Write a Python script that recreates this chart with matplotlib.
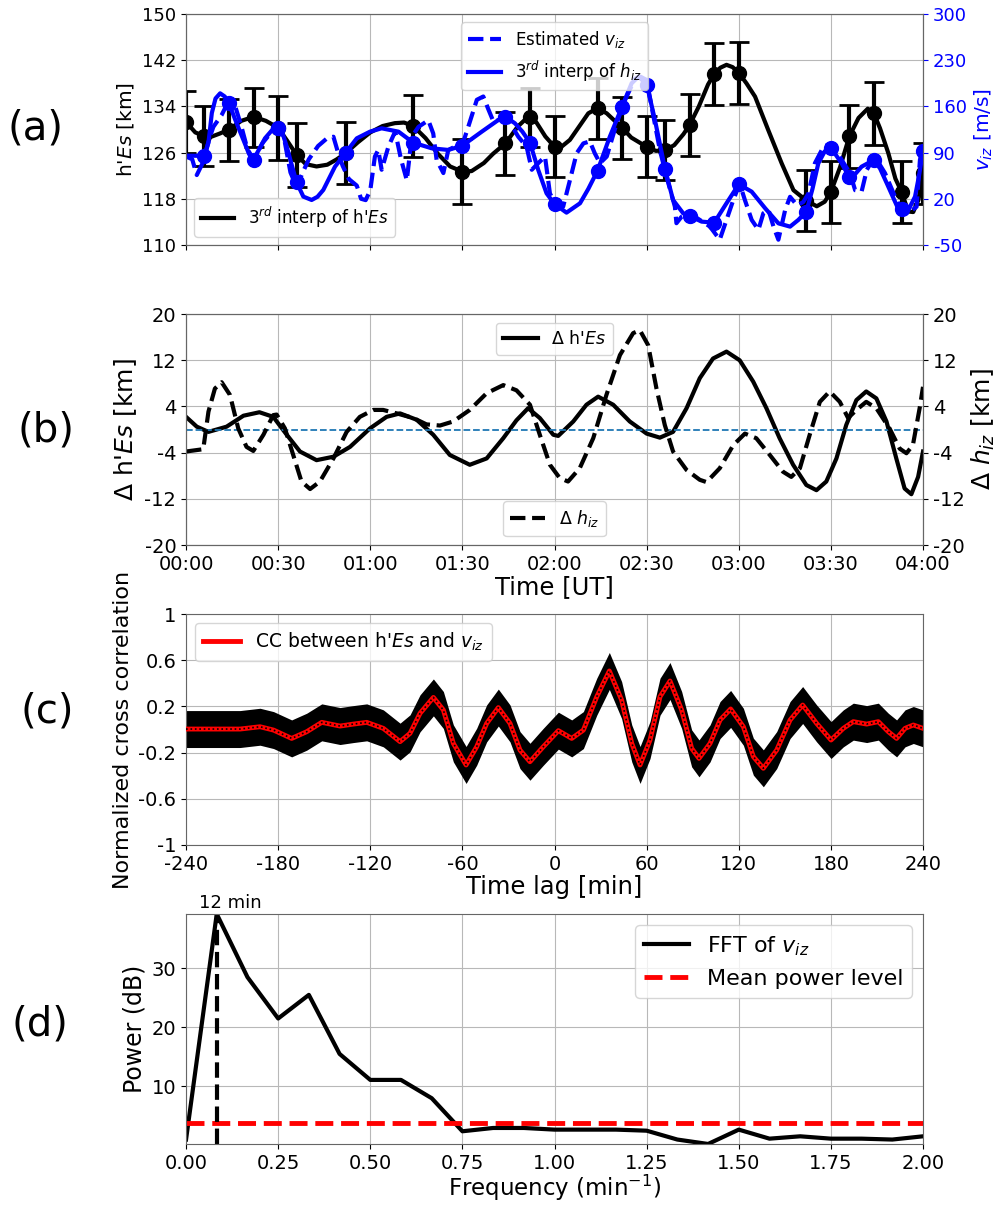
import numpy as np
import matplotlib
matplotlib.use('Agg')
import matplotlib.pyplot as plt

plt.rcParams['font.family'] = ['DejaVu Sans']
plt.rcParams['axes.unicode_minus'] = False
plt.rcParams['mathtext.fontset'] = 'dejavusans'

# ---------------- Panel (a) data ----------------
t_pts = [0, 6, 14, 22, 30, 36, 52, 74, 90, 104, 112, 120, 134, 142, 150, 156,
         164, 172, 180, 202, 210, 216, 224, 233, 240]
h_pts = [131.3, 128.8, 129.9, 132.1, 130.3, 125.6, 125.9, 130.6, 122.7, 127.6,
         132.1, 127.0, 133.7, 130.3, 127.0, 126.4, 130.8, 139.6, 139.8, 117.7,
         119.2, 128.8, 132.8, 119.2, 122.4]
h_err = [5.4, 5.2, 5.4, 5.1, 5.5, 5.5, 5.4, 5.4, 5.6, 5.4, 5.1, 5.3, 5.3, 5.4,
         5.3, 5.2, 5.4, 5.4, 5.4, 5.3, 5.4, 5.4, 5.4, 5.4, 5.3]

t_hes = [0, 3, 6, 8, 11, 14, 18, 22, 26, 30, 33, 36, 39, 42.5, 46, 49, 52, 56, 60,
         64, 68, 71, 74, 78, 82, 86, 90, 93, 97, 100, 104, 108, 111, 114, 117, 120,
         122, 125, 128, 131, 134, 137, 140, 142, 145, 150, 153, 156, 159, 162, 164,
         167, 170, 172, 174, 176, 178, 180, 182.5, 185.3, 189.6, 194, 197.8, 202,
         205.4, 208, 210, 213, 216, 219, 222, 224, 226, 228.7, 231, 233, 235.2,
         236.8, 238.5, 240]
h_hes = [131.3, 129.5, 128.8, 128.7, 129.3, 130.0, 131.5, 132.2, 131.5, 130.3,
         128.0, 125.6, 124.0, 123.6, 123.9, 124.8, 125.9, 127.8, 129.5, 130.6,
         131.1, 131.2, 130.6, 128.5, 125.8, 123.6, 122.7, 122.8, 124.2, 125.8,
         127.6, 130.5, 132.0, 131.3, 128.8, 127.0, 126.9, 128.2, 130.5, 132.8,
         133.7, 132.8, 131.3, 130.3, 128.6, 127.0, 126.3, 126.4, 127.3, 129.2,
         130.8, 134.0, 137.8, 139.6, 140.7, 141.2, 140.8, 139.8, 138.0, 135.7,
         129.9, 124.1, 119.5, 117.7, 116.7, 117.5, 119.2, 123.5, 128.8, 132.0,
         133.6, 132.8, 130.2, 125.9, 121.5, 119.2, 115.8, 115.7, 117.8, 122.4]

t_blue = [6, 14, 22, 30, 36, 52, 74, 90, 104, 112, 120, 134, 142, 150, 156, 164,
          172, 180, 202, 210, 216, 224, 233, 240]
v_blue = [85, 164.7, 78.8, 127.7, 45, 90, 105, 100.5, 144.4, 105, 12.1, 62.6,
          159.6, 192.4, 64.7, -6, -16.2, 42, 0.5, 97.4, 52.6, 78.8, 4, 92.4]

t_fit = [0, 3, 6, 7.3, 8.4, 9.6, 11.1, 12.6, 14, 16, 18.7, 20.5, 21.9, 23.8, 25.7,
         28, 30, 31.5, 32.8, 34.5, 36, 38.2, 40.9, 42.8, 44.7, 48.5, 52, 55.6, 59.9,
         63.7, 69.2, 74, 80, 85.4, 90, 96.3, 101.7, 104, 107.1, 109.5, 112, 114.7,
         117.4, 120, 123.9, 128.3, 131, 134, 138, 142, 145.1, 147.3, 150, 152.7,
         156, 158.6, 161.9, 164, 167.9, 172, 176, 180, 184.2, 188.6, 192.9, 196.7,
         199.4, 202, 204, 205.9, 208, 210, 213.5, 216, 218, 220, 224, 226, 228.2,
         232, 234.7, 237.4, 238.7, 240]
v_fit = [85.4, 85.2, 85, 105, 150, 172, 179.8, 175, 164.7, 140, 109, 88, 78.8, 95,
         111.6, 124, 127.7, 118, 99, 70, 45, 23.3, 18.2, 23, 33.4, 68.7, 90, 111.6,
         121.7, 126.8, 121.7, 105, 96.5, 94, 100.5, 121.7, 139.4, 144.4, 134.4,
         122, 105, 63.7, 28.3, 12.1, -1, 13.2, 35, 62.6, 114, 159.6, 195, 205, 194,
         139.4, 64.7, 18.2, -2, -6, -14.6, -16.2, 13.2, 42, 30.8, 5.6, -17.2,
         -22.2, -12, 0.5, 35, 73.7, 92, 97.4, 73.7, 52.6, 58, 68.7, 78.8, 66,
         43.5, 4, -2, 23.3, 55, 92.4]

t_est = [0, 2, 3.5, 5.5, 7.5, 8.9, 11.6, 13, 15.9, 18, 20, 22, 25, 28, 30, 32, 34,
         36, 38, 40, 43, 46, 48, 49.5, 51, 53, 55.6, 57, 58.5, 60, 61.5, 62.6, 63.7,
         65.9, 68.1, 70, 71.9, 73.5, 75.7, 78.9, 80.5, 81.6, 83.8, 85.4, 88, 90,
         91.9, 94.7, 96.8, 98.5, 100.1, 102, 105, 108.2, 110.9, 112.6, 114.7, 116.9,
         118.5, 120, 122.8, 125, 127.2, 129.4, 131.5, 133.1, 134.8, 137, 140.2, 143,
         146.2, 148, 150, 152, 154.3, 156.5, 159.2, 159.7, 161.4, 164, 167.3, 170.6,
         173.8, 176, 178.2, 180.3, 182, 184.2, 186.4, 188, 189.7, 191.3, 192.9,
         195.1, 196.7, 199, 201, 202.7, 204.8, 207.6, 210.3, 213.5, 216.2, 217.9,
         220, 221.7, 224.3, 227.6, 230.9, 233, 235.2, 237.9, 239, 240]
v_est = [84, 80, 56, 75, 110, 129, 147, 160, 162, 130, 95, 80, 105, 122, 127, 110,
         60, 38, 60, 80, 100, 112, 114, 90, 70, 50, 40, 20, 18, 33, 84, 94, 64, 99,
         122, 80, 48, 114, 129, 139, 119, 79, 59, 94, 100, 102, 129, 170, 175, 155,
         137, 140, 139, 114, 99, 64, 74, 84, 28, 15, 8, 48, 89, 104, 107, 89, 74,
         84, 134, 170, 202, 205, 200, 150, 94, 53, 8, -17, -7, -2, -12, -22, -42,
         -12, 18, 43, 18, -12, -27, -2, 3, -22, -42, 3, 23, 10, 15, 28, 74, 99, 104,
         79, 59, 33, 31, 64, 84, 59, 23, 3, -2, 8, 79, 99]

# ---------------- Panel (b) data ----------------
t_dh = [0, 3.5, 7.3, 13.2, 18.7, 23.9, 28.4, 32.8, 37.1, 42.5, 48, 53.4, 59.9,
        65.3, 69.7, 75.1, 80.5, 85.9, 92.4, 97.9, 103.3, 107.6, 111.4, 115.2,
        119.6, 121.2, 126.1, 130.4, 134.2, 139.1, 144.5, 150, 154.3, 158.6, 163,
        167.3, 171.6, 176, 180.3, 184.7, 189, 193.3, 197.7, 202, 205.3, 208.5,
        211.8, 215, 218.3, 221.5, 224.8, 228.1, 231.3, 234, 236.2, 238.4, 240]
dh_es = [2.2, 0.5, -0.4, 0.5, 2.4, 3.0, 2.2, -0.9, -3.8, -5.3, -4.7, -3.0, 0.2,
         2.2, 2.8, 1.7, -0.9, -4.4, -6.1, -5.0, -1.5, 1.6, 3.7, 2.0, -0.9, -1.1,
         1.4, 4.3, 5.7, 4.3, 1.4, -0.7, -1.4, -0.4, 3.7, 8.9, 12.3, 13.5, 12.0, 8.3,
         3.7, -1.5, -6.1, -9.6, -10.5, -9.0, -5.0, 0.8, 5.1, 6.6, 5.4, 1.4, -5.0,
         -10.2, -11.2, -8.2, -3.8]

t_dz = [0, 5.6, 7.3, 9.4, 11.6, 14.3, 17, 19.7, 21.9, 25.2, 28.4, 29.5, 32.2, 34.9,
        37.6, 40.4, 43.6, 48, 52.3, 56.6, 61, 64.2, 68.6, 74, 78.3, 82.7, 87, 92.4,
        97.9, 103.3, 107.6, 112, 115.2, 118.5, 121.7, 124.4, 128.2, 132.6, 136.9,
        141.3, 145.6, 147.8, 150.5, 153.2, 155.9, 158.6, 163, 167.3, 169.5, 173.8,
        178.2, 182, 185.7, 190.1, 194.4, 197.1, 199.9, 203.1, 206.4, 209.6, 212.9,
        215.6, 218.3, 221.5, 224.8, 229.1, 232.4, 234.6, 236.7, 238.9, 240]
dh_iz = [-3.8, -3.4, 3.1, 7.1, 8.2, 6.0, 0.2, -3.0, -3.7, -0.9, 2.5, 2.6, 0.2, -4.4,
         -9.0, -10.3, -9.0, -5.0, -0.4, 2.2, 3.4, 3.4, 2.8, 2.0, 0.9, 0.7, 1.4, 3.4,
         6.3, 7.7, 6.8, 4.3, -0.9, -6.1, -8.4, -9.0, -6.7, -1.5, 6.0, 12.9, 16.7,
         17.2, 14.6, 7.1, 0.8, -3.8, -7.0, -8.7, -9.1, -6.7, -2.7, -0.7, -1.5, -4.4,
         -7.3, -8.2, -6.7, -0.9, 4.8, 6.6, 4.8, 2.0, 3.4, 4.8, 3.7, 0.2, -3.3, -4.1,
         -2.7, 3.7, 7.4]
time_labels = ['00:00', '00:30', '01:00', '01:30', '02:00', '02:30', '03:00',
               '03:30', '04:00']

# ---------------- Panel (c) data ----------------
lag = [-240, -220, -204.8, -191.8, -183, -171.2, -161.4, -151.6, -139.7, -131,
       -122.3, -111.5, -100.6, -94.1, -87.6, -78.9, -72.4, -65.9, -57.6, -50.7,
       -44.2, -36.6, -29, -22.5, -16, -7.3, 2.5, 11.2, 18.8, 27.5, 35.7, 43.7,
       50.3, 55.7, 62.2, 68.7, 75.2, 82.8, 89.3, 94.1, 101.3, 107.8, 114.7, 123,
       129.5, 136, 144.7, 153.4, 161.6, 170.7, 180.1, 188.1, 194.6, 203.3, 210.9,
       217.4, 222.8, 228.3, 233.7, 240]
cc = [0.004, 0.004, 0.004, 0.024, -0.005, -0.077, -0.019, 0.062, 0.030, 0.047,
      0.062, 0.010, -0.105, -0.033, 0.140, 0.278, 0.169, -0.120, -0.307, -0.149,
      0.053, 0.190, 0.053, -0.178, -0.279, -0.149, -0.010, -0.077, -0.005, 0.284,
      0.507, 0.255, -0.120, -0.307, -0.091, 0.284, 0.420, 0.169, -0.163, -0.250,
      -0.120, 0.082, 0.178, 0.024, -0.235, -0.336, -0.178, 0.082, 0.212, 0.053,
      -0.091, 0.010, 0.068, 0.047, 0.068, -0.019, -0.077, 0.010, 0.039, 0.010]
cc_band = 0.16
cc_yticks = [-1, -0.6, -0.2, 0.2, 0.6, 1]
cc_yticklabels = ['-1', '-0.6', '-0.2', '0.2', '0.6', '1']

# ---------------- Panel (d) data ----------------
freq = [0.0, 0.0833, 0.1667, 0.25, 0.3333, 0.4167, 0.5, 0.5833, 0.6667, 0.75,
        0.8333, 0.9167, 1.0, 1.0833, 1.1667, 1.25, 1.3333, 1.4167, 1.5, 1.5833,
        1.6667, 1.75, 1.8333, 1.9167, 2.0]
power = [1.0, 39.2, 28.5, 21.5, 25.5, 15.5, 11.1, 11.1, 8.0, 2.4, 2.96, 2.96,
         2.68, 2.68, 2.68, 2.5, 1.0, 0.25, 2.68, 1.15, 1.55, 1.15, 1.15, 1.0, 1.55]
mean_power = 3.8
peak_freq = 0.0833

# ---------------- Figure ----------------
fig = plt.figure(figsize=(9.97, 12.08), dpi=100)
L, W = 0.1866, 0.7392
axA = fig.add_axes([L, 0.7972, W, 0.1912])
axB = fig.add_axes([L, 0.5488, W, 0.1912])
axC = fig.add_axes([L, 0.3005, W, 0.1912])
axD = fig.add_axes([L, 0.0530, W, 0.1904])

spine_col = '#666666'
grid_kw = dict(color='#b8b8b8', lw=0.8)

def style(ax):
    for s in ax.spines.values():
        s.set_color(spine_col)

# (a)
axA.errorbar(t_pts, h_pts, yerr=h_err, fmt='o', color='k', ms=10,
             elinewidth=3, capsize=7, capthick=2, zorder=3)
axA.plot(t_hes, h_hes, 'k-', lw=3, label="3$^{rd}$ interp of h'$Es$")
axA.set_xlim(0, 240)
axA.set_ylim(110, 150)
axA.set_yticks([110, 118, 126, 134, 142, 150])
axA.set_xticks(range(0, 241, 30))
axA.set_xticklabels([])
axA.tick_params(labelsize=13)
axA.grid(True, **grid_kw)
axA.set_axisbelow(True)
axA.set_ylabel("h'$Es$ [km]", fontsize=14.5)
axA.legend(loc='lower left', fontsize=12)
style(axA)

axA2 = axA.twinx()
axA2.plot(t_est, v_est, '--', color='b', lw=3, label='Estimated $v_{iz}$')
axA2.plot(t_fit, v_fit, '-', color='b', lw=3, label='$3^{rd}$ interp of $h_{iz}$')
axA2.plot(t_blue, v_blue, 'o', color='b', ms=10)
axA2.set_ylim(-50, 300)
axA2.set_yticks([-50, 20, 90, 160, 230, 300])
axA2.tick_params(labelsize=13, colors='b')
axA2.set_ylabel('$v_{iz}$ [m/s]', fontsize=14.5, color='b')
axA2.legend(loc='upper center', fontsize=12)
style(axA2)

# (b)
axB.plot(t_dh, dh_es, 'k-', lw=3, label="$\\Delta$ h'$Es$")
axB.axhline(0, color='#1f77b4', ls='--', lw=1.3)
axB.set_xlim(0, 240)
axB.set_ylim(-20, 20)
axB.set_yticks([-20, -12, -4, 4, 12, 20])
axB.set_xticks(range(0, 241, 30))
axB.set_xticklabels(time_labels)
axB.tick_params(labelsize=14)
axB.grid(True, **grid_kw)
axB.set_ylabel("$\\Delta$ h'$Es$ [km]", fontsize=18)
axB.set_xlabel('Time [UT]', fontsize=17.5, labelpad=1)
axB.legend(loc='upper center', fontsize=12.5)
style(axB)

axB2 = axB.twinx()
axB2.plot(t_dz, dh_iz, 'k--', lw=3, label='$\\Delta$ $h_{iz}$')
axB2.set_ylim(-20, 20)
axB2.set_yticks([-20, -12, -4, 4, 12, 20])
axB2.tick_params(labelsize=14)
axB2.set_ylabel('$\\Delta$ $h_{iz}$ [km]', fontsize=18)
axB2.legend(loc='lower center', fontsize=12.5)
style(axB2)

# (c)
cc_arr = np.array(cc)
axC.fill_between(lag, cc_arr - cc_band, cc_arr + cc_band, color='k', lw=0, zorder=2)
axC.plot(lag, cc, '-', color='red', lw=3.5, zorder=3,
         label="CC between h'$Es$ and $v_{iz}$")
axC.plot(lag, cc, ':', color='k', lw=1.2, zorder=4)
axC.set_xlim(-240, 240)
axC.set_ylim(-1, 1)
axC.set_xticks(range(-240, 241, 60))
axC.set_yticks(cc_yticks)
axC.set_yticklabels(cc_yticklabels)
axC.tick_params(labelsize=14)
axC.grid(True, **grid_kw)
axC.set_axisbelow(True)
axC.set_ylabel('Normalized cross correlation', fontsize=16)
axC.set_xlabel('Time lag [min]', fontsize=17.5, labelpad=1)
axC.legend(loc='upper left', fontsize=13.5)
style(axC)

# (d)
axD.plot(freq, power, 'k-', lw=3, label='FFT of $v_{iz}$')
axD.axhline(mean_power, color='red', ls='--', lw=3.5, label='Mean power level')
axD.plot([peak_freq, peak_freq], [min(power), max(power)], 'k--', lw=3)
axD.set_xlim(0, 2)
axD.set_ylim(min(power), max(power))
axD.set_xticks([0, 0.25, 0.5, 0.75, 1.0, 1.25, 1.5, 1.75, 2.0])
axD.set_xticklabels(['0.00', '0.25', '0.50', '0.75', '1.00', '1.25', '1.50',
                     '1.75', '2.00'])
axD.set_yticks([10, 20, 30])
axD.tick_params(labelsize=14)
axD.grid(True, **grid_kw)
axD.set_axisbelow(True)
axD.set_ylabel('Power (dB)', fontsize=17)
axD.set_xlabel('Frequency (min$^{-1}$)', fontsize=16.5, labelpad=0)
axD.text(0.12, max(power) + 0.4, '12 min', ha='center', va='bottom', fontsize=13)
axD.legend(loc='upper right', fontsize=16)
style(axD)

# panel letters
fig.text(0.036, 0.894, '(a)', fontsize=29, ha='center', va='center')
fig.text(0.046, 0.644, '(b)', fontsize=29, ha='center', va='center')
fig.text(0.047, 0.411, '(c)', fontsize=29, ha='center', va='center')
fig.text(0.040, 0.152, '(d)', fontsize=29, ha='center', va='center')

fig.savefig('out.png', dpi=100)
